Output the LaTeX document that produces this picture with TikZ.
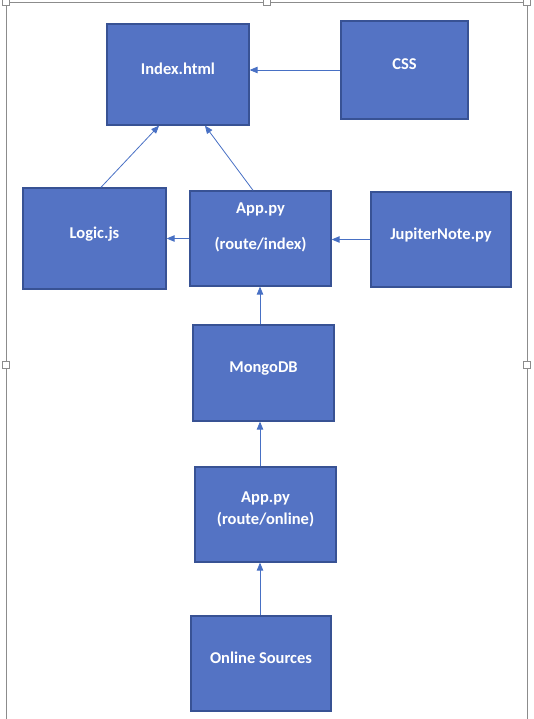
\documentclass[tikz,border=0pt]{standalone}
\usepackage{xcolor}
\usepackage{fontspec}
\setmainfont{Carlito}
\usepackage{tikz}
\usetikzlibrary{arrows}

\definecolor{boxblue}{RGB}{84,115,196}
\definecolor{boxline}{RGB}{56,82,148}
\definecolor{linkblue}{RGB}{72,112,196}
\definecolor{framegray}{RGB}{140,140,140}

\begin{document}
\begin{tikzpicture}[x=1pt,y=-1pt,every node/.style={rectangle,draw=boxline,line width=1.4pt,fill=boxblue,text=white,font=\fontsize{16.5}{22}\selectfont\bfseries,align=center,inner sep=0pt,text depth=12pt},link/.style={-triangle 45,draw=linkblue,line width=0.8pt},handle/.style={draw=framegray,fill=white,line width=0.6pt,minimum size=7pt,text depth=0pt}]
    \useasboundingbox (0,0) rectangle (533,719);
    % frame of the page
    \draw[framegray,line width=0.8pt] (6,719) -- (6,2) -- (527,2) -- (527,719);
    \foreach \hx/\hy in {6/2,267/2,527/2,6/365,527/365}
      \node[handle] at (\hx,\hy) {};
    % boxes
    \node[minimum width=142pt,minimum height=101pt] (index) at (178,74.5) {Index.html};
    \node[minimum width=127pt,minimum height=98pt] (css) at (404.5,70) {CSS};
    \node[minimum width=143pt,minimum height=101pt] (logic) at (94.5,238.5) {Logic.js};
    \node[minimum width=141pt,minimum height=95pt,text depth=24pt] (appindex) at (260.5,238.5) {App.py\\[14pt](route/index)};
    \node[minimum width=140pt,minimum height=95pt] (jupiter) at (441,239.5) {JupiterNote.py};
    \node[minimum width=141pt,minimum height=96pt] (mongo) at (263.5,373) {MongoDB};
    \node[minimum width=141pt,minimum height=95pt] (apponline) at (265.5,514.5) {App.py\\(route/online)};
    \node[minimum width=140pt,minimum height=95pt] (sources) at (261,663.5) {Online Sources};
    \coordinate (spine) at (260,0);
    % connectors
    \draw[link] (css.west) -- (css.west -| index.east);
    \draw[link] ([xshift=6.5pt]logic.north) -- ([xshift=-19pt]index.south);
    \draw[link] ([xshift=-7.5pt]appindex.north) -- ([xshift=27pt]index.south);
    \draw[link] (appindex.west) -- (appindex.west -| logic.east);
    \draw[link] (jupiter.west) -- (jupiter.west -| appindex.east);
    \draw[link] (mongo.north -| spine) -- (appindex.south -| spine);
    \draw[link] (apponline.north -| spine) -- (mongo.south -| spine);
    \draw[link] (sources.north -| spine) -- (apponline.south -| spine);
  \end{tikzpicture}
\end{document}
